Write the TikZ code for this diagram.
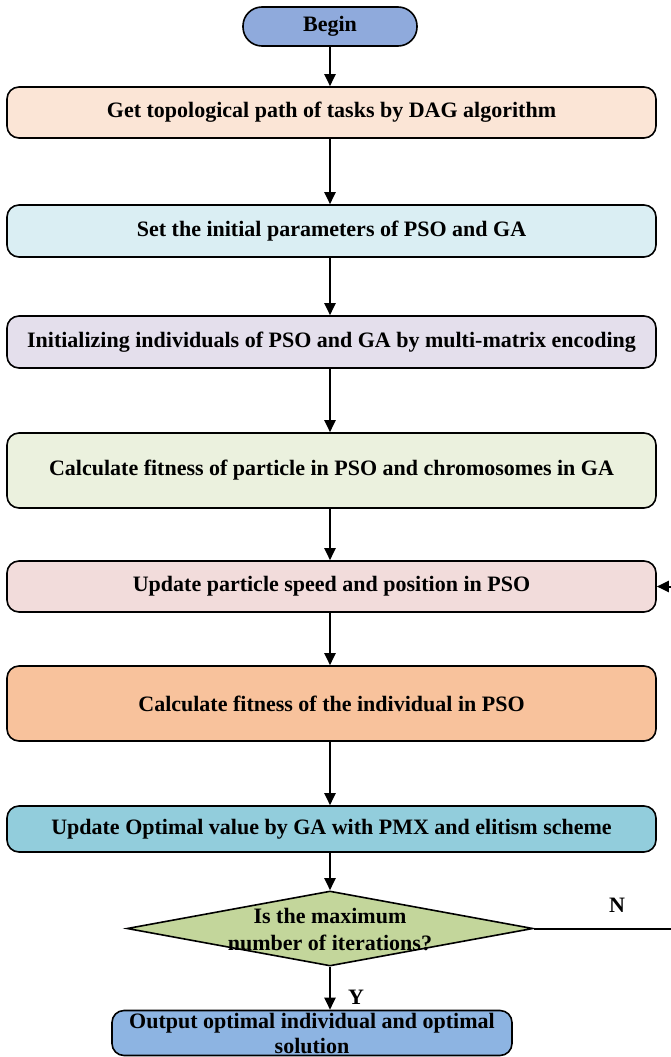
\documentclass[tikz,border=0pt]{standalone}
\usepackage{fontspec}
\setmainfont{Liberation Serif}
\usetikzlibrary{arrows.meta,shapes.geometric}

\definecolor{beginblue}{HTML}{8FAADC}
\definecolor{peach}{HTML}{FBE5D6}
\definecolor{paleblue}{HTML}{DAEEF3}
\definecolor{lavender}{HTML}{E4DFEC}
\definecolor{palegreen}{HTML}{EBF1DE}
\definecolor{palepink}{HTML}{F2DCDB}
\definecolor{orangebox}{HTML}{F8C29C}
\definecolor{tealbox}{HTML}{92CDDC}
\definecolor{olivegreen}{HTML}{C3D69B}
\definecolor{outblue}{HTML}{8DB4E2}

\tikzset{
  every node/.style={font=\fontsize{22}{27}\selectfont\bfseries},
  process/.style={draw, line width=1.6pt, rounded corners=12pt,
    minimum width=649pt, align=center, inner sep=0pt},
  terminal/.style={draw, line width=1.6pt, rounded corners=19pt,
    minimum width=174pt, minimum height=39pt, inner sep=0pt, fill=beginblue},
  decision/.style={draw, line width=1.6pt, diamond, aspect=5.4,
    minimum width=406pt, minimum height=75pt, inner sep=0pt, fill=olivegreen},
  flow/.style={line width=2pt, -{Triangle[length=12pt,width=11pt]}}
}

\begin{document}
\begin{tikzpicture}[x=1pt,y=-1pt]
  \clip (0,0) rectangle (671,1057);
  \node[terminal] (begin) at (330,26.5) {Begin};
  \node[process, minimum height=51pt, fill=peach] (toposort) at (331.5,112.5)
    {Get topological path of tasks by DAG algorithm};
  \node[process, minimum height=52pt, fill=paleblue] (setparam) at (331.5,231)
    {Set the initial parameters of PSO and GA};
  \node[process, minimum height=52pt, fill=lavender] (initind) at (331.5,342)
    {Initializing individuals of PSO and GA by multi-matrix encoding};
  \node[process, minimum height=75pt, fill=palegreen] (fitall) at (331.5,470.5)
    {Calculate fitness of particle in PSO and chromosomes in GA};
  \node[process, minimum height=51pt, fill=palepink] (updpso) at (331.5,586.5)
    {Update particle speed and position in PSO};
  \node[process, minimum height=75pt, fill=orangebox] (fitpso) at (331.5,703.5)
    {Calculate fitness of the individual in PSO};
  \node[process, minimum height=46pt, fill=tealbox] (updga) at (331.5,829)
    {Update Optimal value by GA with PMX and elitism scheme};
  \node[decision] (maxiter) at (330,928.5) {};
  \node[align=center, inner sep=0pt] (maxitertext) at (330,930)
    {Is the maximum\\number of iterations?};
  \node[process, minimum width=400pt, minimum height=45pt, fill=outblue,
    font=\fontsize{22}{25}\selectfont\bfseries] (output) at (312,1033)
    {Output optimal individual and optimal\\solution};

  \draw[flow] (begin) -- (begin |- toposort.north);
  \draw[flow] (toposort.south -| begin) -- (setparam.north -| begin);
  \draw[flow] (setparam.south -| begin) -- (initind.north -| begin);
  \draw[flow] (initind.south -| begin) -- (fitall.north -| begin);
  \draw[flow] (fitall.south -| begin) -- (updpso.north -| begin);
  \draw[flow] (updpso.south -| begin) -- (fitpso.north -| begin);
  \draw[flow] (fitpso.south -| begin) -- (updga.north -| begin);
  \draw[flow] (updga.south -| begin) -- (maxiter.north);
  \draw[flow] (maxiter.south) -- (output.north -| maxiter.south);
  \coordinate (loopturn) at (700,928.5);
  \draw[flow] (maxiter.east) -- (loopturn) |- (updpso.east);

  \node (yes) at (356,997) {Y};
  \node (no) at (617,905) {N};
\end{tikzpicture}
\end{document}
